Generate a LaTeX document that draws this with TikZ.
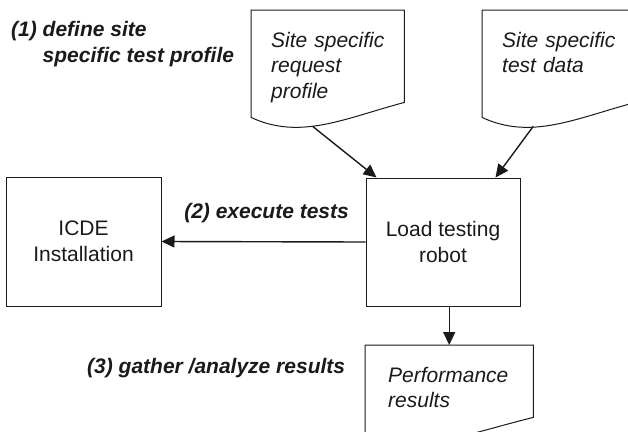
\documentclass[tikz,border=0pt]{standalone}
\usepackage{fontspec}
\setmainfont{Liberation Sans}
\usetikzlibrary{arrows.meta,calc}
\definecolor{ink}{HTML}{1A1A1A}
\tikzset{
  box/.style={draw=ink,line width=1pt,minimum width=154pt,minimum height=128pt,
              inner sep=0pt,align=center,text=ink,font=\fontsize{21}{25.5}\selectfont},
  doc/.style={inner xsep=9pt,inner ysep=0pt,text height=37pt,text depth=79pt,
              text width=135pt,align=left,anchor=north west,text=ink,
              execute at begin node={\leftskip=11pt},
              font=\fontsize{21}{25.5}\selectfont\itshape},
  docline/.style={draw=ink,line width=1pt},
  steplbl/.style={inner sep=0pt,text=ink,font=\fontsize{21}{25.5}\selectfont\bfseries\itshape},
  arr/.style={-{Triangle[length=13pt,width=12pt]},line width=1.4pt,draw=ink}
}
\newcommand{\docframe}[1]{%
  \draw[docline] (#1.north west) -- (#1.north east) -- ([yshift=24pt]#1.south east)
    .. controls ($(#1.south west)!0.61!(#1.south east)+(0pt,8pt)$)
    and ($(#1.south west)!0.32!(#1.south east)+(0pt,-14pt)$)
    .. ([yshift=9pt]#1.south west) -- cycle;}

\begin{document}
\begin{tikzpicture}[x=1pt,y=-1pt]
    \path[use as bounding box] (0,0) rectangle (628,431);

    \node[doc] (request) at (251,10) {Site specific\\request\\profile};
    \docframe{request}
    \node[doc] (testdata) at (482,10) {Site specific\\test data};
    \docframe{testdata}

    \node[box] (robot) at (443,242) {Load testing\\robot};
    \node[box,minimum width=155pt,minimum height=129pt] (icde) at (83.5,241.5)
      {ICDE\\Installation};

    \node[doc,text width=150pt,text depth=59pt,
          execute at begin node={\leftskip=14pt}] (perf) at (365,345)
      {Performance\\results};
    \docframe{perf}

    \node[steplbl,align=left,anchor=north west] (define) at (11,21.5)
      {(1) define site\\\hspace*{1.5em}specific test profile};
    \node[steplbl,anchor=base west] (gather) at (87,373)
      {(3) gather /analyze results};

    \draw[arr] ([xshift=-15pt]request.south) -- ([xshift=11pt]robot.north west);
    \draw[arr] ([xshift=-25.5pt]testdata.south) -- ([xshift=-25pt]robot.north east);
    \draw[arr] (robot.west) -- node[steplbl,pos=0.485,anchor=base,yshift=23pt]
      (execute) {(2) execute tests} (icde.east);
    \draw[arr] (robot.south -| perf.north) -- (perf.north);
\end{tikzpicture}
\end{document}
